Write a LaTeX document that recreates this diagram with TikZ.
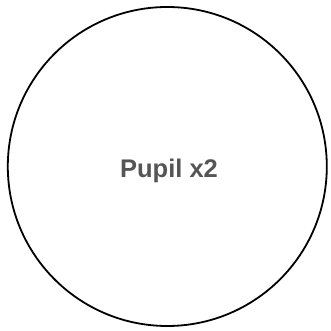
\documentclass[tikz,border=0pt]{standalone}
\usepackage{fontspec}
\setmainfont{Liberation Sans}
\definecolor{txtgray}{HTML}{555555}
\begin{document}
\begin{tikzpicture}[x=1pt,y=1pt,
  pupil/.style={circle,draw=black,line width=1.8pt,minimum size=319pt,inner sep=0pt},
  lbl/.style={inner sep=0pt,font=\fontsize{25.5}{30}\selectfont\bfseries,text=txtgray}]
\useasboundingbox (0,0) rectangle (331,331);
\node[pupil] (p) at (167.3,164.5) {};
\node[lbl,anchor=base] (t) at (169,153) {Pupil x2};
\end{tikzpicture}
\end{document}
